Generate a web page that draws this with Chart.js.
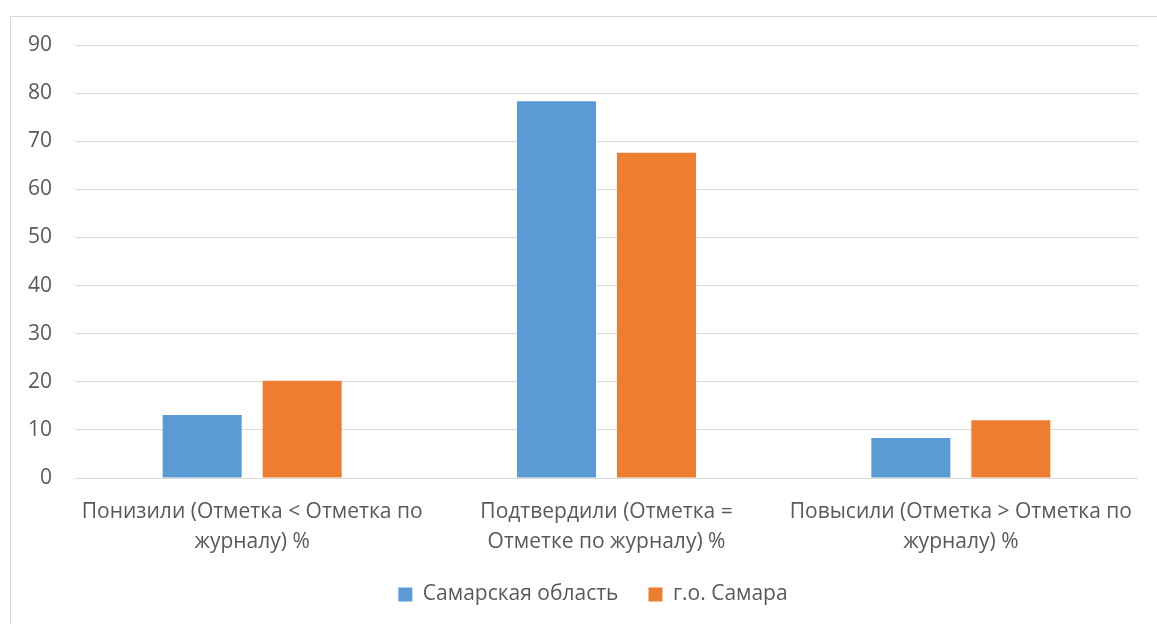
<!DOCTYPE html>
<html>
<head>
<meta charset="utf-8">
<script src="https://cdn.jsdelivr.net/npm/chart.js@4/dist/chart.umd.min.js"></script>
<style>
  html, body { margin: 0; padding: 0; background: #fff; }
  #wrap { position: relative; width: 1157px; height: 624px; overflow: hidden; }
  #frame { position: absolute; left: 10px; top: 16px; width: 1200px; height: 700px;
           border-left: 1px solid #d9d9d9; border-top: 1px solid #d9d9d9; box-sizing: border-box; }
  canvas { position: absolute; left: 0; top: 0; }
</style>
</head>
<body>
<div id="wrap">
  <div id="frame"></div>
  <canvas id="chart" width="1157" height="624"></canvas>
</div>
<script>
// Categories (each split into two display lines)
const categories = [
  ["Понизили (Отметка < Отметка по", "журналу) %"],
  ["Подтвердили (Отметка =", "Отметке по журналу) %"],
  ["Повысили (Отметка > Отметка по", "журналу) %"]
];
const seriesNames = ["Самарская область", "г.о. Самара"];
const regionValues = [13.1, 78.3, 8.3];
const cityValues = [20.2, 67.6, 12.0];
const yTicks = [0, 10, 20, 30, 40, 50, 60, 70, 80, 90];

const textColor = "#595959";
const gridColor = "#d9d9d9";
const fontFamily = "'Open Sans', 'Liberation Sans', sans-serif";
const legendBoxHeight = 70;
const legendShiftX = 24;

// Keep the legend compact vertically (wide item gaps) and nudge it right
const legendLayoutPlugin = {
  id: "legendLayout",
  beforeLayout(chart) {
    const lg = chart.legend;
    if (!lg || lg._fixedHeight) return;
    const fit = lg.fit;
    lg.fit = function () {
      fit.call(this);
      this.height = legendBoxHeight;
    };
    lg._fixedHeight = true;
  },
  afterLayout(chart) {
    const lg = chart.legend;
    if (!lg) return;
    lg.left += legendShiftX;
    lg.right += legendShiftX;
  }
};

new Chart(document.getElementById("chart"), {
  type: "bar",
  data: {
    labels: categories,
    datasets: [
      { label: seriesNames[0], data: regionValues, backgroundColor: "#5B9BD5",
        categoryPercentage: 0.5645, barPercentage: 0.79 },
      { label: seriesNames[1], data: cityValues, backgroundColor: "#ED7D31",
        categoryPercentage: 0.5645, barPercentage: 0.79 }
    ]
  },
  plugins: [legendLayoutPlugin],
  options: {
    responsive: false,
    animation: false,
    layout: { padding: { left: 0, top: 45, right: 19, bottom: 0 } },
    plugins: {
      tooltip: { enabled: false },
      legend: {
        position: "bottom",
        labels: {
          color: textColor,
          font: { family: fontFamily, size: 21 },
          boxWidth: 14,
          boxHeight: 14,
          padding: 30
        }
      }
    },
    scales: {
      x: {
        grid: { display: false },
        border: { display: false },
        ticks: {
          color: textColor,
          font: { family: fontFamily, size: 21, lineHeight: 1.43 },
          padding: 11,
          maxRotation: 0,
          autoSkip: false
        },
        afterFit: (scale) => { scale.height = 76; }
      },
      y: {
        min: 0,
        max: 90,
        afterBuildTicks: (scale) => { scale.ticks = yTicks.map(v => ({ value: v })); },
        grid: { color: gridColor, lineWidth: 1, drawTicks: false },
        border: { display: false },
        ticks: {
          color: textColor,
          font: { family: fontFamily, size: 21 },
          padding: 23
        },
        afterFit: (scale) => { scale.width = 75; }
      }
    }
  }
});
</script>
</body>
</html>
